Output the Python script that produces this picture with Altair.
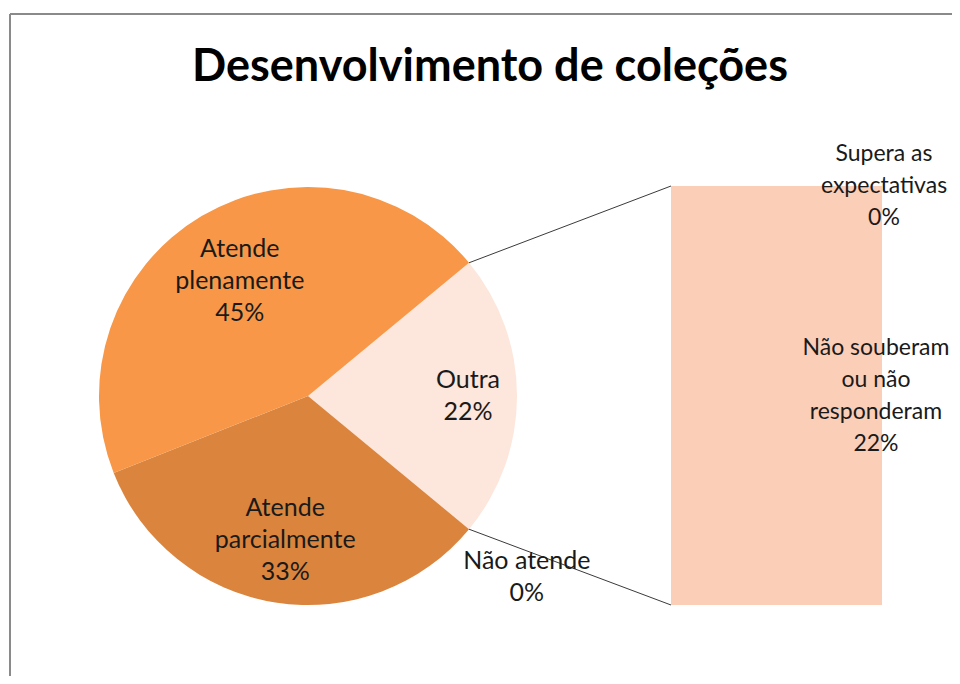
import math
import altair as alt
import pandas as pd

TITLE = "Desenvolvimento de coleções"

# Pie (clockwise from the "Outra" slice)
pie_categories = ["Outra", "Não atende", "Atende parcialmente", "Atende plenamente"]
pie_label_lines = ["Outra", "Não atende", "Atende\nparcialmente", "Atende\nplenamente"]
pie_values = [22, 0, 33, 45]
pie_colors = ["#FDE6DB", "#E9A36B", "#DB843D", "#F79747"]

# Breakdown bar of "Outra" (bottom to top)
bar_categories = ["Não souberam ou não responderam", "Supera as expectativas"]
bar_label_lines = ["Não souberam\nou não\nresponderam", "Supera as\nexpectativas"]
bar_values = [22, 0]
bar_color = "#FBCEB8"

# Layout (pixels inside the view)
W, H = 944, 668
CX, CY, R = 300, 388, 209
BAR_X0, BAR_X1 = 663, 874
BAR_TOP, BAR_BOTTOM = 178, 597
FONT = "Lato"
FS, LH = 25, 32
# label distance from the pie centre (layout only)
inner_radius_expr = ("datum.category == 'Outra' ? 160 : "
                     "datum.category == 'Atende plenamente' ? 134 : 146")

pie = pd.DataFrame({
    "category": pie_categories,
    "label": [f"{l}\n{v}%" for l, v in zip(pie_label_lines, pie_values)],
    "value": pie_values,
    "order": list(range(len(pie_values))),
})
bar = pd.DataFrame({
    "category": bar_categories,
    "label": [f"{l}\n{v}%" for l, v in zip(bar_label_lines, bar_values)],
    "value": bar_values,
    "order": list(range(len(bar_values))),
})

total = sum(pie_values)
outra_share = pie_values[0] / total
start = math.pi / 2 - outra_share * math.pi
end = start + 2 * math.pi * outra_share

theta_scale = alt.Scale(domain=[0, total], range=[start, start + 2 * math.pi])
theta = alt.Theta("value:Q", stack=True, scale=theta_scale)
order = alt.Order("order:Q")

arcs = alt.Chart(pie).mark_arc(radius=R).encode(
    theta=theta,
    order=order,
    color=alt.Color("category:N", scale=alt.Scale(domain=pie_categories, range=pie_colors), legend=None),
    x=alt.value(CX), y=alt.value(CY),
)

# vertically centre multi-line labels on their anchor
center_dy = alt.expr(f"-(length(split(datum.txt, '\\n')) - 1) * {LH / 2}")
text_style = dict(font=FONT, fontSize=FS, lineHeight=LH, lineBreak="\n", color="#1a1a1a",
                  align="center", baseline="middle", dy=center_dy)

inner_text = alt.Chart(pie).transform_calculate(
    txt="datum.value > 0 ? datum.label : ''"
).mark_text(radius=alt.expr(inner_radius_expr), **text_style).encode(
    theta=theta, order=order, text="txt:N", x=alt.value(CX), y=alt.value(CY),
)
outer_text = alt.Chart(pie).transform_calculate(
    txt="datum.value > 0 ? '' : datum.label"
).mark_text(radius=284, **text_style).encode(
    theta=theta, order=order, text="txt:N", x=alt.value(CX), y=alt.value(CY),
)

y_scale = alt.Scale(domain=[0, sum(bar_values)], range=[BAR_BOTTOM, BAR_TOP], nice=False, zero=True)

bar_base = alt.Chart(bar).transform_window(
    cum="sum(value)", sort=[alt.SortField("order")]
).transform_calculate(
    y0="datum.cum - datum.value",
    mid="datum.cum - datum.value / 2",
    txt="datum.label",
)

bars = bar_base.mark_rect(color=bar_color).encode(
    y=alt.Y("y0:Q", scale=y_scale, axis=None),
    y2="cum:Q",
    x=alt.value(BAR_X0), x2=alt.value(BAR_X1),
)
bar_style = dict(text_style, fontSize=23)
bar_text = bar_base.mark_text(dx=alt.expr("datum.value > 0 ? -6 : 2"), **bar_style).encode(
    y=alt.Y("mid:Q", scale=y_scale, axis=None),
    x=alt.value(BAR_X1),
    text="txt:N",
)

def edge(a):
    return CX + R * math.sin(a), CY - R * math.cos(a)

one = pd.DataFrame({"k": [0]})
ux, uy = edge(start)
lx, ly = edge(end)
conn_up = alt.Chart(one).mark_rule(color="#3a3a3a", strokeWidth=1).encode(
    x=alt.value(ux), y=alt.value(uy), x2=alt.value(BAR_X0), y2=alt.value(BAR_TOP))
conn_low = alt.Chart(one).mark_rule(color="#3a3a3a", strokeWidth=1).encode(
    x=alt.value(lx), y=alt.value(ly), x2=alt.value(BAR_X0), y2=alt.value(BAR_BOTTOM))

border_top = alt.Chart(one).mark_rule(color="#8a8a8a", strokeWidth=2).encode(
    x=alt.value(2), x2=alt.value(W), y=alt.value(6), y2=alt.value(6))
border_left = alt.Chart(one).mark_rule(color="#8a8a8a", strokeWidth=2).encode(
    x=alt.value(2), x2=alt.value(2), y=alt.value(6), y2=alt.value(H))

chart = alt.layer(
    border_top, border_left, arcs, bars, conn_up, conn_low, inner_text, outer_text, bar_text
).properties(
    width=W, height=H, padding=0,
    autosize=alt.AutoSizeParams(type="none"),
    title=alt.TitleParams(TITLE, font=FONT, fontSize=45, fontWeight="bold", color="#000000",
                          anchor="middle", baseline="alphabetic", offset=-75, dx=10, dy=43),
).configure_view(stroke=None)

chart.save("out.html", embed_options={"renderer": "svg", "actions": False})
